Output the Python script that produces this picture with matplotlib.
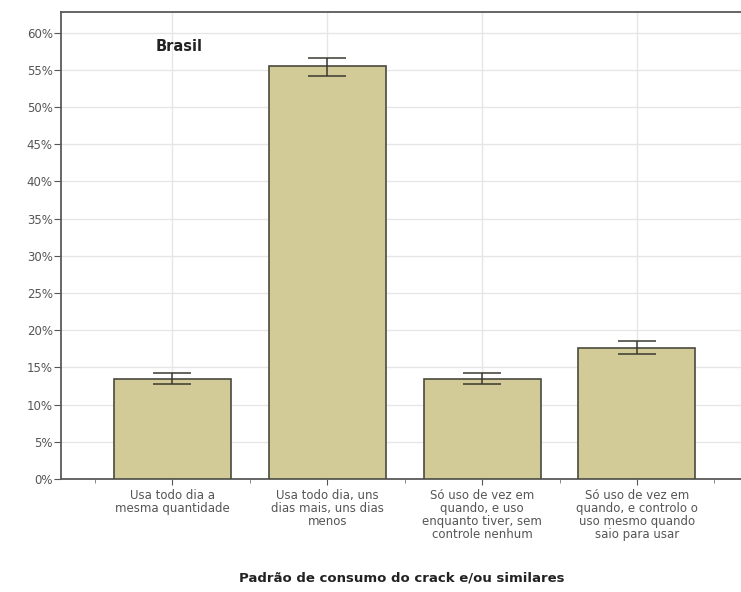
import matplotlib
matplotlib.use("Agg")
import matplotlib.pyplot as plt
from matplotlib.ticker import FuncFormatter, MultipleLocator, FixedLocator

categories = [
    "Usa todo dia a\nmesma quantidade",
    "Usa todo dia, uns\ndias mais, uns dias\nmenos",
    "Só uso de vez em\nquando, e uso\nenquanto tiver, sem\ncontrole nenhum",
    "Só uso de vez em\nquando, e controlo o\nuso mesmo quando\nsaio para usar",
]
values = [13.5, 55.5, 13.5, 17.6]
err_low = [12.7, 54.2, 12.7, 16.8]
err_high = [14.3, 56.6, 14.3, 18.5]

fig = plt.figure(figsize=(7.41, 5.92), dpi=100)
ax = fig.add_axes([0.0823, 0.191, 0.9177 + 0.01, 0.789])

x = list(range(len(categories)))
yerr = [[v - l for v, l in zip(values, err_low)], [h - v for v, h in zip(values, err_high)]]
ax.bar(x, values, width=0.755, color="#D3CB97", edgecolor="#4a4a40", linewidth=1.2, zorder=3)
ax.errorbar(x, values, yerr=yerr, fmt="none", ecolor="#3a3a30", elinewidth=1.1, capsize=14, capthick=1.1, zorder=4)

ax.set_xlim(-0.72, 3.72)
ax.set_ylim(0, 62.8)
ax.yaxis.set_major_locator(MultipleLocator(5))
ax.yaxis.set_major_formatter(FuncFormatter(lambda v, p: f"{v:.0f}%"))
ax.set_xticks(x)
ax.set_xticklabels(categories, fontsize=8.5, color="#555555", linespacing=1.0)
ax.xaxis.set_minor_locator(FixedLocator([-0.5, 0.5, 1.5, 2.5, 3.5]))
ax.tick_params(axis="x", which="minor", length=3, color="#777777")
ax.tick_params(axis="x", which="major", length=4, color="#555555", pad=3)
ax.tick_params(axis="y", length=5, color="#555555", labelsize=8.5, labelcolor="#555555", pad=1)

ax.grid(True, axis="both", which="major", color="#e6e6e6", linewidth=1.0, zorder=0)
ax.set_axisbelow(True)

for s in ["left", "top", "bottom"]:
    ax.spines[s].set_color("#5a5a5a")
    ax.spines[s].set_linewidth(1.3)
ax.spines["right"].set_visible(False)

ax.text(0.138, 0.925, "Brasil", transform=ax.transAxes, fontsize=10.5, fontweight="bold", color="#222222", ha="left", va="center")
ax.set_xlabel("Padrão de consumo do crack e/ou similares", fontsize=9.5, fontweight="bold", color="#222222")
ax.xaxis.set_label_coords(0.495, -0.199)

fig.savefig("out.png", dpi=100)
